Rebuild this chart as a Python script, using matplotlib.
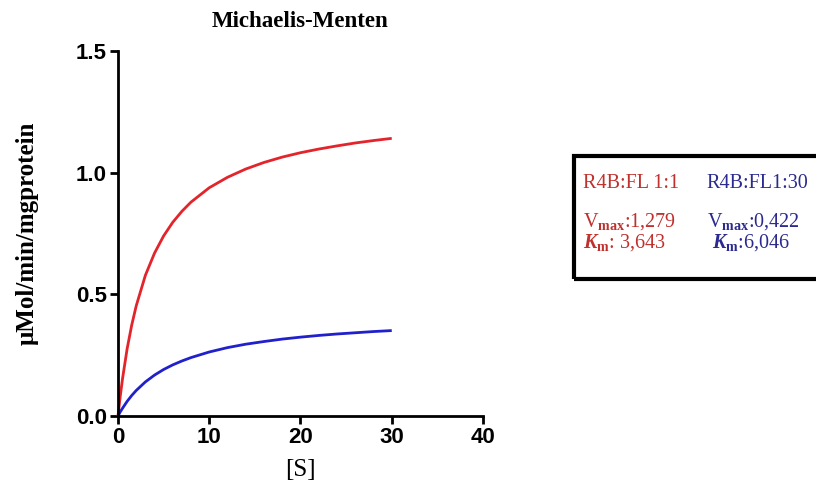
import matplotlib
matplotlib.use("Agg")
import matplotlib.pyplot as plt
from matplotlib.patches import Rectangle

# values
s_vals = [0, 0.25, 0.5, 1, 1.5, 2, 3, 4, 5, 6, 7, 8, 10, 12, 14, 16, 18, 20, 22, 24, 26, 28, 30]
v_red = [0, 0.082, 0.154, 0.276, 0.373, 0.453, 0.578, 0.669, 0.740, 0.796, 0.841, 0.879,
         0.938, 0.981, 1.015, 1.042, 1.064, 1.082, 1.097, 1.110, 1.122, 1.132, 1.141]
v_blue = [0, 0.017, 0.032, 0.060, 0.084, 0.105, 0.140, 0.168, 0.191, 0.210, 0.226, 0.240,
          0.263, 0.281, 0.295, 0.306, 0.316, 0.324, 0.331, 0.337, 0.342, 0.347, 0.351]
x_ticks = [0, 10, 20, 30, 40]
y_ticks = [0.0, 0.5, 1.0, 1.5]

plt.rcParams['mathtext.fontset'] = 'custom'
plt.rcParams['mathtext.rm'] = 'Liberation Serif'
plt.rcParams['mathtext.bf'] = 'Liberation Serif:bold'
plt.rcParams['mathtext.it'] = 'Liberation Serif:italic'
plt.rcParams['mathtext.bfit'] = 'Liberation Serif:italic:bold'

tick_font = {'family': ['Liberation Sans Narrow', 'Liberation Sans'], 'weight': 'bold', 'size': 16}
serif = 'Liberation Serif'

fig = plt.figure(figsize=(8.16, 5.01), dpi=100)
ax = fig.add_axes([0.1446, 0.1697, 0.4473, 0.7285])

ax.plot(s_vals, v_red, color='#e3242b', lw=2, clip_on=False, solid_capstyle='butt')
ax.plot(s_vals, v_blue, color='#2020cc', lw=2, clip_on=False, solid_capstyle='butt')

ax.set_xlim(0, 40)
ax.set_ylim(0, 1.5)
ax.set_xticks(x_ticks)
ax.set_yticks(y_ticks)
ax.set_xticklabels([str(t) for t in x_ticks], fontdict=tick_font)
ax.set_yticklabels(['%.1f' % t for t in y_ticks], fontdict=tick_font)
ax.tick_params(width=2, length=6, pad=2)
for side in ['top', 'right']:
    ax.spines[side].set_visible(False)
for side in ['left', 'bottom']:
    ax.spines[side].set_linewidth(2)

ax.set_title('Michaelis-Menten', family=serif, weight='bold', size=16.5, pad=17)
ax.set_xlabel('[S]', family=serif, size=18, labelpad=8)
ax.set_ylabel('\u03bcMol/min/mgprotein', family=serif, weight='bold', size=18, labelpad=27)

# parameter box
fig.patches.append(Rectangle((0.703, 0.443), 0.31, 0.246, transform=fig.transFigure,
                             fill=False, edgecolor='black', lw=3))
red_t = '#c0302c'
blue_t = '#2a2a90'
box_size = 14.5
fig.text(0.714, 0.625, 'R4B:FL 1:1', color=red_t, family=serif, size=box_size)
fig.text(0.866, 0.625, 'R4B:FL1:30', color=blue_t, family=serif, size=box_size)
fig.text(0.714, 0.548, r'V$_{\mathbf{max}}$:1,279', color=red_t, family=serif, size=box_size)
fig.text(0.866, 0.548, r'V$_{\mathbf{max}}$:0,422', color=blue_t, family=serif, size=box_size)
fig.text(0.714, 0.506, r'$\mathbfit{K}_{\mathbf{m}}$: 3,643', color=red_t, family=serif, size=box_size)
fig.text(0.872, 0.506, r'$\mathbfit{K}_{\mathbf{m}}$:6,046', color=blue_t, family=serif, size=box_size)

fig.savefig('out.png', dpi=100)
